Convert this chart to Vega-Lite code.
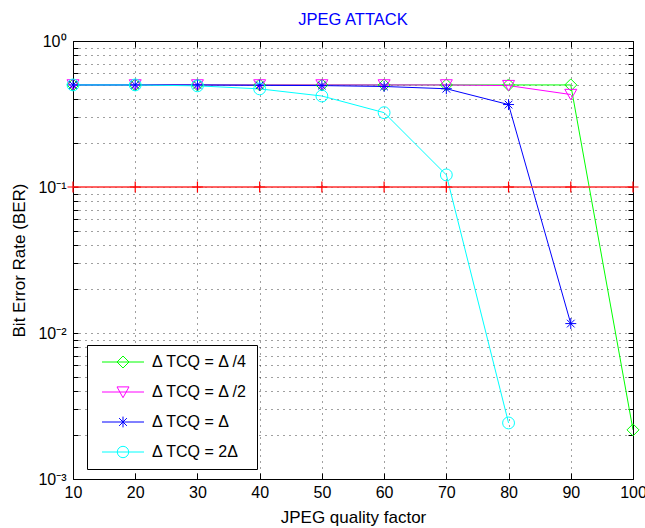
{
  "$schema": "https://vega.github.io/schema/vega-lite/v6.json",
  "width": 560,
  "height": 438,
  "autosize": {"type": "none"},
  "padding": {"left": 73, "top": 41, "right": 12, "bottom": 49},
  "background": "white",
  "config": {
    "view": {"stroke": "#000", "strokeWidth": 1},
    "font": "Liberation Sans"
  },
  "title": {"text": "JPEG ATTACK", "color": "#0000ff", "fontSize": 16.5, "fontWeight": "normal", "font": "Liberation Sans", "offset": 5, "anchor": "middle"},
  "datasets": {
    "d": [
      {"q": 10, "ber": 0.5, "series": "Δ TCQ = Δ /4"},
      {"q": 20, "ber": 0.5, "series": "Δ TCQ = Δ /4"},
      {"q": 30, "ber": 0.5, "series": "Δ TCQ = Δ /4"},
      {"q": 40, "ber": 0.5, "series": "Δ TCQ = Δ /4"},
      {"q": 50, "ber": 0.5, "series": "Δ TCQ = Δ /4"},
      {"q": 60, "ber": 0.5, "series": "Δ TCQ = Δ /4"},
      {"q": 70, "ber": 0.5, "series": "Δ TCQ = Δ /4"},
      {"q": 80, "ber": 0.5, "series": "Δ TCQ = Δ /4"},
      {"q": 90, "ber": 0.5, "series": "Δ TCQ = Δ /4"},
      {"q": 100, "ber": 0.00217, "series": "Δ TCQ = Δ /4"},
      {"q": 10, "ber": 0.5, "series": "Δ TCQ = Δ /2"},
      {"q": 20, "ber": 0.5, "series": "Δ TCQ = Δ /2"},
      {"q": 30, "ber": 0.5, "series": "Δ TCQ = Δ /2"},
      {"q": 40, "ber": 0.5, "series": "Δ TCQ = Δ /2"},
      {"q": 50, "ber": 0.5, "series": "Δ TCQ = Δ /2"},
      {"q": 60, "ber": 0.5, "series": "Δ TCQ = Δ /2"},
      {"q": 70, "ber": 0.5, "series": "Δ TCQ = Δ /2"},
      {"q": 80, "ber": 0.495, "series": "Δ TCQ = Δ /2"},
      {"q": 90, "ber": 0.43, "series": "Δ TCQ = Δ /2"},
      {"q": 10, "ber": 0.5, "series": "Δ TCQ = Δ"},
      {"q": 20, "ber": 0.5, "series": "Δ TCQ = Δ"},
      {"q": 30, "ber": 0.5, "series": "Δ TCQ = Δ"},
      {"q": 40, "ber": 0.497, "series": "Δ TCQ = Δ"},
      {"q": 50, "ber": 0.495, "series": "Δ TCQ = Δ"},
      {"q": 60, "ber": 0.488, "series": "Δ TCQ = Δ"},
      {"q": 70, "ber": 0.471, "series": "Δ TCQ = Δ"},
      {"q": 80, "ber": 0.367, "series": "Δ TCQ = Δ"},
      {"q": 90, "ber": 0.0116, "series": "Δ TCQ = Δ"},
      {"q": 10, "ber": 0.5, "series": "Δ TCQ = 2Δ"},
      {"q": 20, "ber": 0.5, "series": "Δ TCQ = 2Δ"},
      {"q": 30, "ber": 0.493, "series": "Δ TCQ = 2Δ"},
      {"q": 40, "ber": 0.47, "series": "Δ TCQ = 2Δ"},
      {"q": 50, "ber": 0.42, "series": "Δ TCQ = 2Δ"},
      {"q": 60, "ber": 0.323, "series": "Δ TCQ = 2Δ"},
      {"q": 70, "ber": 0.121, "series": "Δ TCQ = 2Δ"},
      {"q": 80, "ber": 0.00242, "series": "Δ TCQ = 2Δ"},
      {"q": 10, "ber": 0.1, "series": "threshold"},
      {"q": 20, "ber": 0.1, "series": "threshold"},
      {"q": 30, "ber": 0.1, "series": "threshold"},
      {"q": 40, "ber": 0.1, "series": "threshold"},
      {"q": 50, "ber": 0.1, "series": "threshold"},
      {"q": 60, "ber": 0.1, "series": "threshold"},
      {"q": 70, "ber": 0.1, "series": "threshold"},
      {"q": 80, "ber": 0.1, "series": "threshold"},
      {"q": 90, "ber": 0.1, "series": "threshold"},
      {"q": 100, "ber": 0.1, "series": "threshold"}
    ]
  },
  "data": {"name": "d"},
  "layer": [
    {
      "transform": [{"filter": "datum.series != 'threshold'"}],
      "mark": {"type": "line", "strokeWidth": 1, "clip": true},
      "encoding": {
        "x": {"field": "q", "type": "quantitative", "scale": {"domain": [10, 100], "nice": false, "zero": false},
          "axis": {"orient": "bottom", "values": [10, 20, 30, 40, 50, 60, 70, 80, 90, 100], "title": "JPEG quality factor", "titleFontSize": 17, "titleFontWeight": "normal", "titleColor": "#000", "titlePadding": 9, "labelFontSize": 16, "labelColor": "#000", "labelPadding": 11, "labelFlush": false, "tickSize": -6, "tickColor": "#000", "domain": false, "grid": true, "gridDash": [1, 5], "gridColor": "#000", "gridOpacity": 0.75}},
        "y": {"field": "ber", "type": "quantitative", "scale": {"type": "log", "domain": [0.001, 1], "nice": false},
          "axis": {"orient": "left", "values": [0.001, 0.002, 0.003, 0.004, 0.005, 0.006, 0.007, 0.008, 0.009, 0.01, 0.02, 0.03, 0.04, 0.05, 0.06, 0.07, 0.08, 0.09, 0.1, 0.2, 0.3, 0.4, 0.5, 0.6, 0.7, 0.8, 0.9, 1],
            "labelExpr": "datum.value == 1 ? '10⁰' : datum.value == 0.1 ? '10⁻¹' : datum.value == 0.01 ? '10⁻²' : datum.value == 0.001 ? '10⁻³' : ''",
            "title": "Bit Error Rate (BER)", "titleFontSize": 17, "titleFontWeight": "normal", "titleColor": "#000", "titlePadding": 9, "labelFontSize": 16, "labelColor": "#000", "labelPadding": 12, "labelFlush": false, "labelOverlap": false, "tickSize": -5, "tickColor": "#000", "domain": false, "grid": true, "gridDash": [1, 5], "gridColor": "#000", "gridOpacity": 0.75}},
        "color": {"field": "series", "type": "nominal", "scale": {"domain": ["Δ TCQ = Δ /4", "Δ TCQ = Δ /2", "Δ TCQ = Δ", "Δ TCQ = 2Δ"], "range": ["#00ff00", "#ff00ff", "#0000ff", "#00ffff"]},
          "legend": {"title": null, "orient": "none", "legendX": 14, "legendY": 304, "fillColor": "#fff", "strokeColor": "#000", "padding": 9, "labelFontSize": 16, "labelFont": "Liberation Sans", "labelColor": "#000", "symbolSize": 144, "symbolStrokeWidth": 1, "symbolOffset": 19, "labelOffset": 21, "rowPadding": 14, "symbolOpacity": 1, "labelLimit": 300, "cornerRadius": 0}}
      }
    },
    {
      "transform": [{"filter": "datum.series == 'Δ TCQ = Δ /4'"}],
      "mark": {"type": "point", "shape": "diamond", "filled": false, "color": "#00ff00", "size": 144, "strokeWidth": 1, "opacity": 1},
      "encoding": {
        "x": {"field": "q", "type": "quantitative", "axis": {"orient": "top", "values": [10, 20, 30, 40, 50, 60, 70, 80, 90, 100], "labels": false, "title": null, "tickSize": -6, "tickColor": "#000", "domain": false, "grid": false}},
        "y": {"field": "ber", "type": "quantitative", "axis": {"orient": "right", "values": [0.001, 0.002, 0.003, 0.004, 0.005, 0.006, 0.007, 0.008, 0.009, 0.01, 0.02, 0.03, 0.04, 0.05, 0.06, 0.07, 0.08, 0.09, 0.1, 0.2, 0.3, 0.4, 0.5, 0.6, 0.7, 0.8, 0.9, 1], "labels": false, "title": null, "tickSize": -5, "tickColor": "#000", "domain": false, "grid": false}}
      }
    },
    {
      "transform": [{"filter": "datum.series == 'Δ TCQ = Δ /2'"}],
      "mark": {"type": "point", "shape": "triangle-down", "filled": false, "color": "#ff00ff", "size": 144, "strokeWidth": 1, "opacity": 1},
      "encoding": {
        "x": {"field": "q", "type": "quantitative", "axis": null},
        "y": {"field": "ber", "type": "quantitative", "axis": null}
      }
    },
    {
      "transform": [{"filter": "datum.series == 'Δ TCQ = Δ'"}],
      "mark": {"type": "point", "shape": "M-1,0L1,0M0,-1L0,1M-0.7,-0.7L0.7,0.7M-0.7,0.7L0.7,-0.7", "filled": false, "color": "#0000ff", "size": 120, "strokeWidth": 1, "opacity": 1},
      "encoding": {
        "x": {"field": "q", "type": "quantitative", "axis": null},
        "y": {"field": "ber", "type": "quantitative", "axis": null}
      }
    },
    {
      "transform": [{"filter": "datum.series == 'Δ TCQ = 2Δ'"}],
      "mark": {"type": "point", "shape": "circle", "filled": false, "color": "#00ffff", "size": 140, "strokeWidth": 1, "opacity": 1},
      "encoding": {
        "x": {"field": "q", "type": "quantitative", "axis": null},
        "y": {"field": "ber", "type": "quantitative", "axis": null}
      }
    },
    {
      "transform": [{"filter": "datum.series == 'threshold'"}],
      "mark": {"type": "line", "color": "#ff3030", "strokeWidth": 1.5},
      "encoding": {
        "x": {"field": "q", "type": "quantitative", "axis": null},
        "y": {"field": "ber", "type": "quantitative", "axis": null}
      }
    },
    {
      "transform": [{"filter": "datum.series == 'threshold'"}],
      "mark": {"type": "point", "shape": "M-1,0L1,0M0,-1L0,1", "filled": false, "color": "#ff0000", "size": 120, "strokeWidth": 1.2, "opacity": 1},
      "encoding": {
        "x": {"field": "q", "type": "quantitative", "axis": null},
        "y": {"field": "ber", "type": "quantitative", "axis": null}
      }
    },
    {
      "transform": [{"filter": "datum.series != 'threshold' && datum.q == 10"}],
      "mark": {"type": "point", "filled": false, "opacity": 0, "size": 144, "strokeWidth": 1},
      "encoding": {
        "x": {"field": "q", "type": "quantitative", "axis": null},
        "y": {"field": "ber", "type": "quantitative", "axis": null},
        "color": {"field": "series", "type": "nominal",
          "legend": {"title": null, "orient": "none", "legendX": 14, "legendY": 304, "fillColor": "#fff", "strokeColor": "#000", "padding": 9, "labelFontSize": 16, "labelFont": "Liberation Sans", "labelColor": "#000", "symbolSize": 144, "symbolStrokeWidth": 1, "symbolOffset": 19, "labelOffset": 21, "rowPadding": 14, "symbolOpacity": 1, "labelLimit": 300, "cornerRadius": 0}},
        "shape": {"field": "series", "type": "nominal",
          "scale": {"domain": ["Δ TCQ = Δ /4", "Δ TCQ = Δ /2", "Δ TCQ = Δ", "Δ TCQ = 2Δ"],
            "range": ["M-3.5,0L3.5,0M0,-1L1,0L0,1L-1,0Z", "M-3.5,0L3.5,0M-1,-0.85L1,-0.85L0,0.95Z", "M-3.5,0L3.5,0M0,-0.9L0,0.9M-0.65,-0.65L0.65,0.65M-0.65,0.65L0.65,-0.65", "M-3.5,0L3.5,0M0.95,0A0.95,0.95,0,1,1,-0.95,0A0.95,0.95,0,1,1,0.95,0"]},
          "legend": {"title": null, "orient": "none", "legendX": 14, "legendY": 304, "fillColor": "#fff", "strokeColor": "#000", "padding": 9, "labelFontSize": 16, "labelFont": "Liberation Sans", "labelColor": "#000", "symbolSize": 144, "symbolStrokeWidth": 1, "symbolOffset": 19, "labelOffset": 21, "rowPadding": 14, "symbolOpacity": 1, "labelLimit": 300, "cornerRadius": 0}}
      }
    }
  ],
  "resolve": {"axis": {"x": "independent", "y": "independent"}}
}
